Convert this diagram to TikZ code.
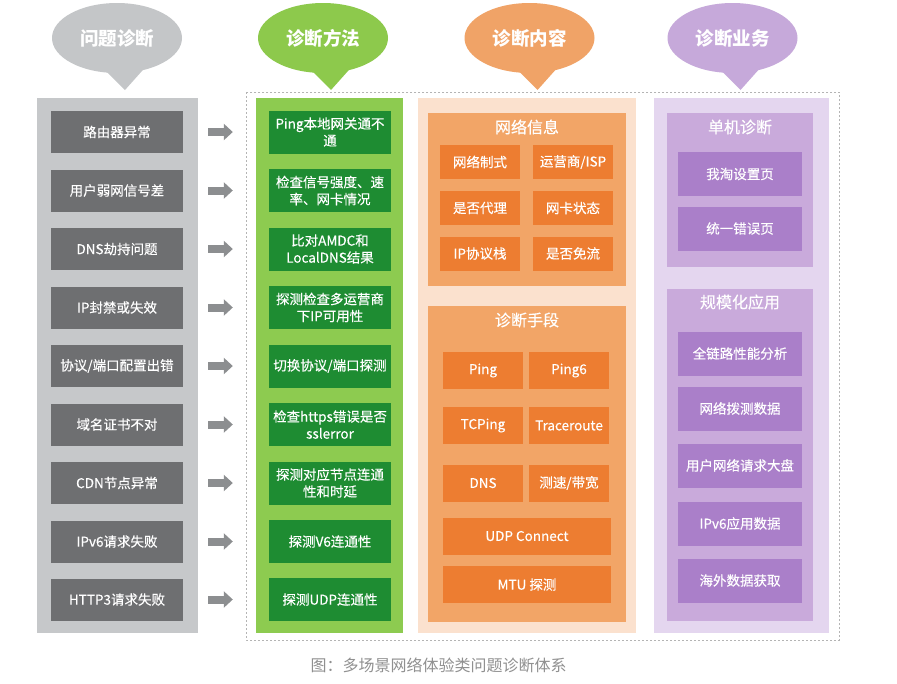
\documentclass[tikz,border=0pt]{standalone}
\usepackage{fontspec}
\setmainfont{Noto Sans CJK SC}
\newfontfamily\medfont{Noto Sans CJK SC}[FakeBold=0.3]
\usetikzlibrary{shapes.geometric,arrows.meta}
\definecolor{bubGray}{HTML}{C4C6C8}
\definecolor{bubGreen}{HTML}{8DC94C}
\definecolor{bubOrange}{HTML}{F0A367}
\definecolor{bubPurple}{HTML}{C6A9DA}
\definecolor{panGray}{HTML}{C6C8CA}
\definecolor{itGray}{HTML}{6E6F71}
\definecolor{arGray}{HTML}{8C8E90}
\definecolor{panGreen}{HTML}{8DCB50}
\definecolor{itGreen}{HTML}{1E8C32}
\definecolor{panPeach}{HTML}{FBE1CE}
\definecolor{boxOrange}{HTML}{F2A567}
\definecolor{itOrange}{HTML}{ED7D31}
\definecolor{panLav}{HTML}{E4D6EF}
\definecolor{boxPurple}{HTML}{C9AADB}
\definecolor{itPurple}{HTML}{AA7FC9}
\definecolor{capGray}{HTML}{909090}
\definecolor{dashGray}{HTML}{B4B4B4}
\newcommand{\itfont}{\medfont\fontsize{13.5}{17}\selectfont}
\begin{document}
\begin{tikzpicture}[x=1pt,y=-1pt,
  bubble/.style={ellipse, minimum width=130pt, minimum height=70pt, inner sep=0pt, text=white, font=\fontsize{18.5}{20}\selectfont\bfseries},
  box/.style={inner sep=0pt, text=white, font=\itfont, align=center},
  gitem/.style={box, fill=itGray, minimum width=132pt, minimum height=42pt},
  mitem/.style={box, fill=itGreen, minimum width=122pt, minimum height=43pt},
  oitem/.style={box, fill=itOrange, minimum width=80pt, minimum height=34pt},
  oitemb/.style={box, fill=itOrange, minimum width=80pt, minimum height=37pt},
  pitem/.style={box, fill=itPurple, minimum width=124pt, minimum height=44pt},
  ttl/.style={inner sep=0pt, text=white, font=\medfont\fontsize{16}{18}\selectfont},
  bigarrow/.style={draw=arGray, line width=8pt, -{Triangle[length=9pt,width=16pt]}, shorten <=25pt, shorten >=36pt}
]
\useasboundingbox (0,0) rectangle (897,683);
\fill[white] (0,0) rectangle (897,683);

% header bubbles
\foreach \n/\cx/\col/\t in {h1/117/bubGray/问题诊断, h2/323/bubGreen/诊断方法, h3/529.5/bubOrange/诊断内容, h4/732.5/bubPurple/诊断业务}{
  \fill[\col] (\cx-20,62) -- (\cx+33,62) -- (\cx+8,90) -- cycle;
  \node[bubble, fill=\col] (\n) at (\cx,38) {\t};
}

% dashed frame
\draw[dashGray, line width=0.6pt, dash pattern=on 2pt off 2pt] (246,92) rectangle (839,640);

% panels
\fill[panGray] (37,98) rectangle (198,633);
\fill[panGreen] (256,98) rectangle (403,633);
\fill[panPeach] (418,98) rectangle (636,633);
\fill[panLav] (654,98) rectangle (829,633);

% left two columns
\foreach \i/\yy/\ta/\tb in {
  1/132/{路由器异常}/{Ping本地网关通不\\通},
  2/190.5/{用户弱网信号差}/{检查信号强度、速\\率、网卡情况},
  3/249/{DNS劫持问题}/{比对AMDC和\\LocalDNS结果},
  4/307.5/{IP封禁或失效}/{探测检查多运营商\\下IP可用性},
  5/366/{协议/端口配置出错}/{切换协议/端口探测},
  6/424.5/{域名证书不对}/{检查https错误是否\\sslerror},
  7/483/{CDN节点异常}/{探测对应节点连通\\性和时延},
  8/541.5/{IPv6请求失败}/{探测V6连通性},
  9/599.5/{HTTP3请求失败}/{探测UDP连通性}}{
  \node[gitem] (g\i) at (117,\yy) {\ta};
  \node[mitem] (m\i) at (330,\yy) {\tb};
  \draw[bigarrow] (g\i.east) -- (m\i.west);
}

% orange column
\fill[boxOrange] (428,113) rectangle (626,286);
\node[ttl] (oinfo) at (527,127) {网络信息};
\node[oitem] (o11) at (480,162) {网络制式};
\node[oitem] (o12) at (573,162) {运营商/ISP};
\node[oitem] (o21) at (480,208) {是否代理};
\node[oitem] (o22) at (573,208) {网卡状态};
\node[oitem] (o31) at (480,253.5) {IP协议栈};
\node[oitem] (o32) at (573,253.5) {是否免流};

\fill[boxOrange] (428,306) rectangle (626,622);
\node[ttl] (omeans) at (527,320) {诊断手段};
\node[oitemb] (p11) at (483,370.5) {Ping};
\node[oitemb] (p12) at (569,370.5) {Ping6};
\node[oitemb] (p21) at (483,425.5) {TCPing};
\node[oitemb] (p22) at (569,425.5) {Traceroute};
\node[oitemb] (p31) at (483,483) {DNS};
\node[oitemb] (p32) at (569,483) {测速/带宽};
\node[oitemb, minimum width=168pt] (p4) at (527,536) {UDP Connect};
\node[oitemb, minimum width=168pt] (p5) at (527,584.5) {MTU 探测};

% purple column
\fill[boxPurple] (667,113) rectangle (813,267);
\node[ttl] (psingle) at (740,127) {单机诊断};
\node[pitem] (s1) at (740,174) {我淘设置页};
\node[pitem] (s2) at (740,228.5) {统一错误页};

\fill[boxPurple] (667,289) rectangle (813,621);
\node[ttl] (pscale) at (740,302) {规模化应用};
\node[pitem] (r1) at (740,353.5) {全链路性能分析};
\node[pitem] (r2) at (740,408.5) {网络拨测数据};
\node[pitem] (r3) at (740,465.5) {用户网络请求大盘};
\node[pitem] (r4) at (740,523.5) {IPv6应用数据};
\node[pitem] (r5) at (740,580.5) {海外数据获取};

% caption
\node[inner sep=0pt, text=capGray, font=\fontsize{16}{18}\selectfont] (cap) at (438.5,665) {图：多场景网络体验类问题诊断体系};
\end{tikzpicture}
\end{document}
